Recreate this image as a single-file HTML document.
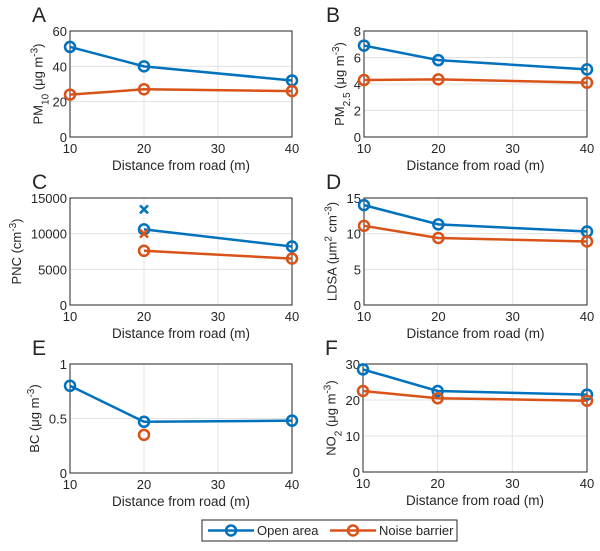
<!DOCTYPE html>
<html><head><meta charset="utf-8"><style>
body{margin:0;background:#fff;width:600px;height:546px;overflow:hidden}
svg text{font-family:"Liberation Sans",sans-serif;fill:#262626}
</style></head><body>
<svg id="fig" width="600" height="546" xmlns="http://www.w3.org/2000/svg"></svg>
<script>
const xCats=[10,20,40];
const xTicks=[10,20,30,40];
const aOpen=[51,40,32], aBarrier=[24,27,26];
const bOpen=[6.9,5.8,5.1], bBarrier=[4.3,4.35,4.1];
const cOpen=[null,10600,8200], cBarrier=[null,7600,6500];
const cOpenX=[null,13400,null], cBarrierX=[null,10000,null];
const dOpen=[14,11.3,10.3], dBarrier=[11.1,9.4,8.9];
const eOpen=[0.8,0.47,0.48], eBarrier=[null,0.35,null];
const fOpen=[28.5,22.5,21.5], fBarrier=[22.5,20.5,19.8];
const yTicksA=[0,20,40,60], yTicksB=[0,2,4,6,8], yTicksC=[0,5000,10000,15000],
      yTicksD=[0,5,10,15], yTicksE=[0,0.5,1], yTicksF=[0,10,20,30];
const BLUE="#0072BD", RED="#D95319";
const svg=document.getElementById('fig'), NS="http://www.w3.org/2000/svg";
function el(t,a,p){const e=document.createElementNS(NS,t);for(const k in a)e.setAttribute(k,a[k]);(p||svg).appendChild(e);return e;}
const panels=[
 {L:"A",x0:70,x1:292,y0:31,y1:137,yt:yTicksA,o:aOpen,b:aBarrier,lab:'PM<tspan baseline-shift="sub" font-size="10">10</tspan> (μg m<tspan baseline-shift="super" font-size="10">-3</tspan>)'},
 {L:"B",x0:364,x1:587,y0:31,y1:137,yt:yTicksB,o:bOpen,b:bBarrier,lab:'PM<tspan baseline-shift="sub" font-size="10">2.5</tspan> (μg m<tspan baseline-shift="super" font-size="10">-3</tspan>)'},
 {L:"C",x0:70,x1:292,y0:198,y1:305,yt:yTicksC,o:cOpen,b:cBarrier,ox:cOpenX,bx:cBarrierX,lab:'PNC (cm<tspan baseline-shift="super" font-size="10">-3</tspan>)'},
 {L:"D",x0:364,x1:587,y0:198,y1:305,yt:yTicksD,o:dOpen,b:dBarrier,lab:'LDSA (μm<tspan baseline-shift="super" font-size="10">2</tspan> cm<tspan baseline-shift="super" font-size="10">-3</tspan>)'},
 {L:"E",x0:70,x1:292,y0:364,y1:473,yt:yTicksE,o:eOpen,b:eBarrier,lab:'BC (μg m<tspan baseline-shift="super" font-size="10">-3</tspan>)'},
 {L:"F",x0:363,x1:587,y0:364,y1:472,yt:yTicksF,o:fOpen,b:fBarrier,lab:'NO<tspan baseline-shift="sub" font-size="10">2</tspan> (μg m<tspan baseline-shift="super" font-size="10">-3</tspan>)'}
];
panels.forEach(p=>{
 const g=el('g',{});
 
 
 const ymax=p.yt[p.yt.length-1];
 const sx=v=>p.x0+(v-10)/30*(p.x1-p.x0);
 const sy=v=>p.y1-v/ymax*(p.y1-p.y0);
 xTicks.forEach(t=>{el('line',{x1:sx(t),x2:sx(t),y1:p.y0,y2:p.y1,stroke:"#e3e3e3"},g);
  const tx=el('text',{x:sx(t),y:p.y1+16,'text-anchor':'middle','font-size':13},g);tx.textContent=t;
  });
 let tw=0;
 p.yt.forEach(t=>{el('line',{x1:p.x0,x2:p.x1,y1:sy(t),y2:sy(t),stroke:"#e3e3e3"},g);
  const tx=el('text',{x:p.x0-3,y:sy(t)+5,'text-anchor':'end','font-size':13},g);tx.textContent=t;
  
  tw=Math.max(tw,tx.getComputedTextLength());});
 el('rect',{x:p.x0,y:p.y0,width:p.x1-p.x0,height:p.y1-p.y0,fill:'none',stroke:'#262626'},g);
 const xt=el('text',{x:(p.x0+p.x1)/2,y:p.y1+33,'text-anchor':'middle','font-size':13.5},g);xt.textContent="Distance from road (m)";
 
 const yl=el('text',{transform:`translate(${p.x0-tw-13},${(p.y0+p.y1)/2}) rotate(-90)`,'text-anchor':'middle','font-size':13},g);yl.innerHTML=p.lab;
 
 const lt=el('text',{x:p.x0-38,y:p.y0-9,'font-size':21},g);lt.textContent=p.L;
 
 [[p.o,BLUE,'open-area'],[p.b,RED,'noise-barrier']].forEach(([arr,c,n])=>{
  const pts=[];arr.forEach((v,i)=>{if(v!=null)pts.push([sx(xCats[i]),sy(v)]);});
  if(pts.length>1){const pl=el('polyline',{points:pts.map(q=>q.join(',')).join(' '),fill:'none',stroke:c,'stroke-width':2.5},g);
   }
  pts.forEach(q=>{const m=el('circle',{cx:q[0],cy:q[1],r:5,fill:'none',stroke:c,'stroke-width':2.5},g);
   });
 });
 [[p.ox,BLUE,'open-area'],[p.bx,RED,'noise-barrier']].forEach(([arr,c,n])=>{
  if(!arr)return;arr.forEach((v,i)=>{if(v==null)return;const x=sx(xCats[i]),y=sy(v);
   const m=el('path',{d:`M${x-4} ${y-4}L${x+4} ${y+4}M${x-4} ${y+4}L${x+4} ${y-4}`,stroke:c,'stroke-width':2.5},g);
   });
 });
});
const lg=el('g',{});


el('rect',{x:202,y:520,width:255,height:21,fill:'#fff',stroke:'#262626'},lg);
[[BLUE,'Open area',208,'legend-open-area'],[RED,'Noise barrier',330,'legend-noise-barrier']].forEach(([c,t,x,n])=>{
 const g=el('g',{},lg);
 el('line',{x1:x,x2:x+46,y1:530.5,y2:530.5,stroke:c,'stroke-width':2.5},g);
 el('circle',{cx:x+23,cy:530.5,r:5,fill:'none',stroke:c,'stroke-width':2.5},g);
 const tx=el('text',{x:x+49,y:535,'font-size':13},g);tx.textContent=t;
});
</script>
</body></html>
